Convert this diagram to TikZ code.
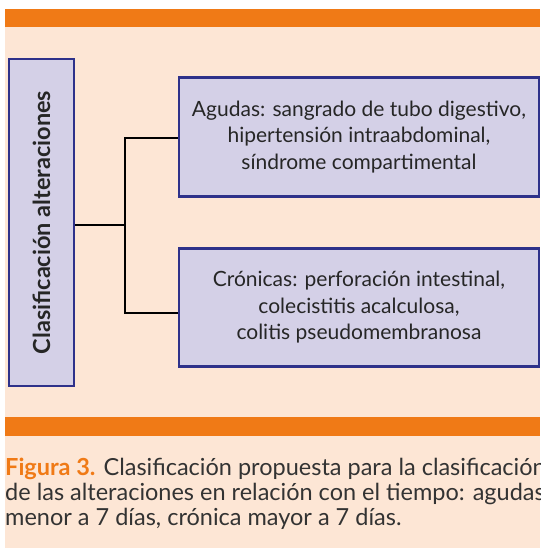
\documentclass[tikz,border=0pt]{standalone}
\usepackage{fontspec}
\setmainfont{Lato}
\usetikzlibrary{positioning}
\definecolor{bandorange}{HTML}{F07A16}
\definecolor{peach}{HTML}{FDE6D5}
\definecolor{boxfill}{HTML}{D4D0E7}
\definecolor{boxline}{HTML}{2E318A}
\definecolor{captext}{HTML}{333333}
\begin{document}
\begin{tikzpicture}[x=1pt, y=-1pt,
  catbox/.style={draw=boxline, fill=boxfill, line width=2.6pt, inner sep=0pt},
  link/.style={line width=1.8pt, black}]

\useasboundingbox (0,0) rectangle (540,548);

% Background and bands
\fill[peach] (5,27) rectangle (540,548);
\fill[bandorange] (5,9) rectangle (540,27);
\fill[bandorange] (5,417) rectangle (540,436);

% Boxes
\node[catbox, rotate=90, minimum width=327pt, minimum height=65pt,
  font=\bfseries\fontsize{23.5}{26}\selectfont, text=black!85] (clasif) at (41.5,222.5)
  {Clasificación alteraciones};

\node[catbox, minimum width=360pt, minimum height=119pt, align=center,
  font=\fontsize{21}{26.5}\selectfont, text=black!85] (agudas) at (359,137)
  {Agudas: sangrado de tubo digestivo,\\hipertensión intraabdominal,\\síndrome compartimental};

\node[catbox, minimum width=360pt, minimum height=118pt, align=center,
  font=\fontsize{21}{26.5}\selectfont, text=black!85] (cronicas) at (359,307.5)
  {Crónicas: perforación intestinal,\\colecistitis acalculosa,\\colitis pseudomembranosa};

% Connectors
\draw[link] ([yshift=-2.5pt]clasif.south) -- ++(50,0) coordinate (fork);
\draw[link] ([yshift=-1pt]agudas.west) -| (fork) |- ([yshift=-5.5pt]cronicas.west);

% Caption
\node[anchor=base west, inner sep=0pt, align=left, text=captext,
  font=\fontsize{23.5}{25}\selectfont] (caption) at (5,525)
  {{\color{bandorange}\bfseries Figura 3.} Clasificación propuesta para la clasificación\\
   de las alteraciones en relación con el tiempo: agudas\\
   menor a 7 días, crónica mayor a 7 días.};

\end{tikzpicture}
\end{document}
